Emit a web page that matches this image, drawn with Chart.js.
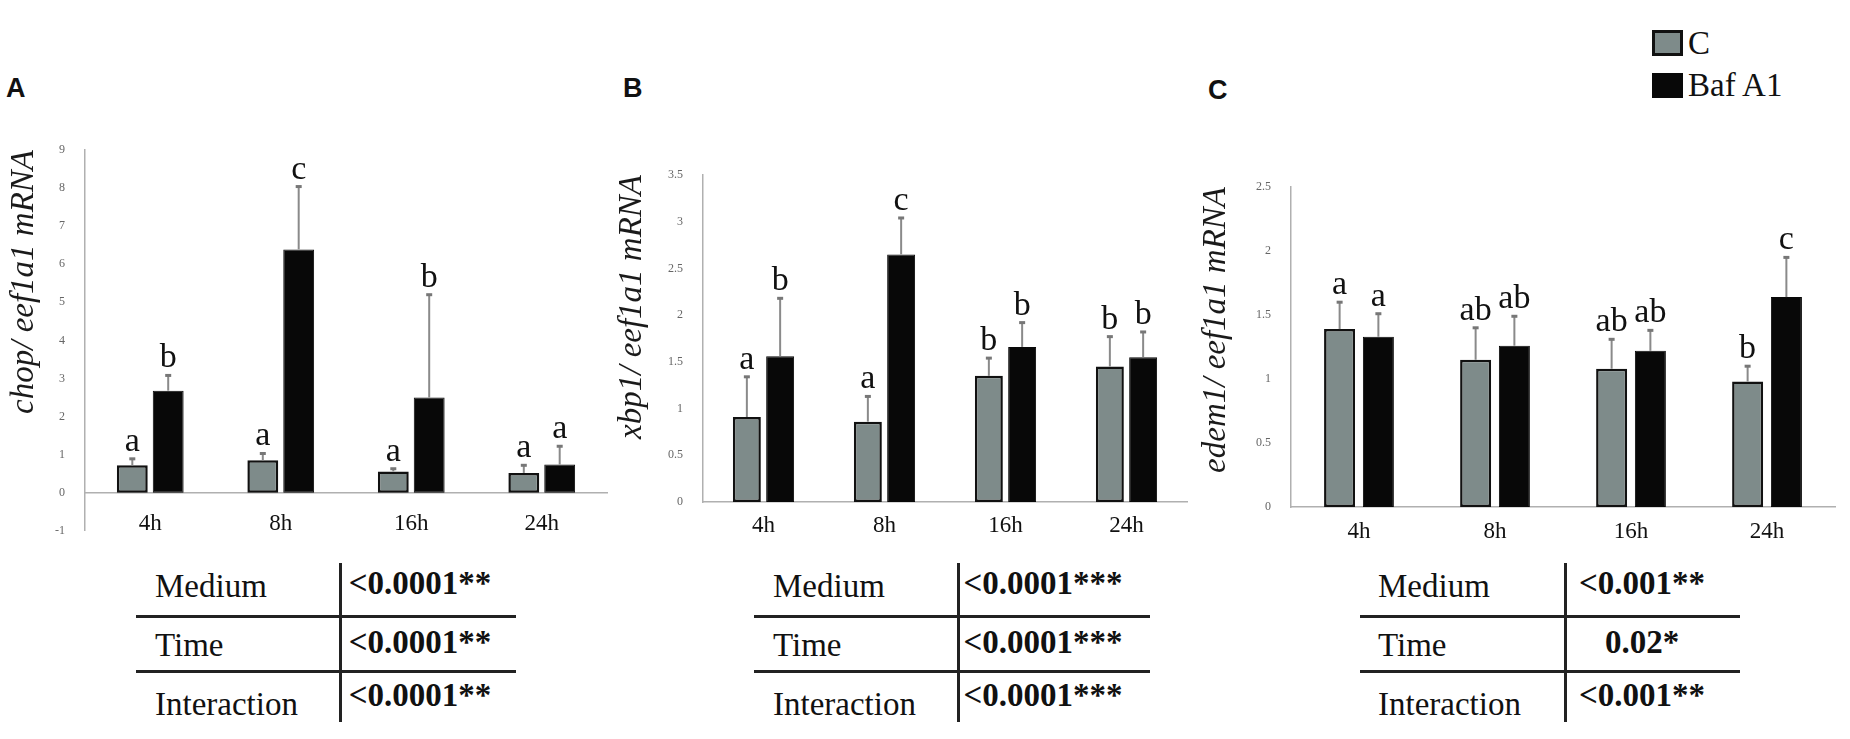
<!DOCTYPE html>
<html>
<head>
<meta charset="utf-8">
<script src="https://cdn.jsdelivr.net/npm/chart.js@4.4.1/dist/chart.umd.min.js"></script>
<style>
  html, body { margin: 0; padding: 0; background: #fff; }
  body { width: 1850px; height: 739px; position: relative; overflow: hidden; font-family: "Liberation Serif", serif; color: #111; }
  .box { position: absolute; }
  .panel { position: absolute; font-family: "Liberation Sans", Arial, sans-serif; font-weight: bold; font-size: 27px; line-height: 30px; }
  .txt { position: absolute; white-space: nowrap; line-height: 40px; height: 40px; font-family: "Liberation Serif", serif; }
  .hl { position: absolute; height: 3px; background: #222; }
  .vl { position: absolute; width: 3px; background: #222; }
  .sw { position: absolute; box-sizing: border-box; }
</style>
</head>
<body>

<div class="panel" style="left:6px; top:73px;">A</div>
<div class="panel" style="left:623px; top:73px;">B</div>
<div class="panel" style="left:1208px; top:75px;">C</div>

<div class="sw" style="left:1652px; top:30px; width:31px; height:26px; background:#7e8b8a; border:3px solid #111;"></div>
<div class="txt" style="left:1688px; top:23px; font-size:33px;">C</div>
<div class="sw" style="left:1652px; top:73px; width:31px; height:25px; background:#080808;"></div>
<div class="txt" style="left:1688px; top:65px; font-size:33px;">Baf A1</div>

<div class="box" style="left:0px; top:130px; width:620px; height:420px;"><canvas id="chartA"></canvas></div>
<div class="box" style="left:600px; top:150px; width:600px; height:400px;"><canvas id="chartB"></canvas></div>
<div class="box" style="left:1190px; top:160px; width:660px; height:400px;"><canvas id="chartC"></canvas></div>

<script>
// sampling times
const times = ['4h', '8h', '16h', '24h'];

// A: chop / eef1a1 mRNA
const chopC      = [0.72, 0.85, 0.56, 0.52];
const chopCSe    = [0.17, 0.18, 0.07, 0.20];
const chopBaf    = [2.68, 6.39, 2.50, 0.74];
const chopBafSe  = [0.40, 1.65, 2.70, 0.48];
const chopCLet   = ['a', 'a', 'a', 'a'];
const chopBafLet = ['b', 'c', 'b', 'a'];

// B: xbp1 / eef1a1 mRNA
const xbpC      = [0.91, 0.86, 1.35, 1.45];
const xbpCSe    = [0.43, 0.27, 0.19, 0.32];
const xbpBaf    = [1.56, 2.65, 1.66, 1.55];
const xbpBafSe  = [0.62, 0.39, 0.26, 0.27];
const xbpCLet   = ['a', 'a', 'b', 'b'];
const xbpBafLet = ['b', 'c', 'b', 'b'];

// C: edem1 / eef1a1 mRNA
const edemC      = [1.39, 1.15, 1.08, 0.98];
const edemCSe    = [0.21, 0.25, 0.23, 0.12];
const edemBaf    = [1.33, 1.26, 1.22, 1.64];
const edemBafSe  = [0.18, 0.23, 0.16, 0.31];
const edemCLet   = ['a', 'ab', 'ab', 'b'];
const edemBafLet = ['a', 'ab', 'ab', 'c'];

// two-way ANOVA tables
const effects = ['Medium', 'Time', 'Interaction'];
const pvalA = ['<0.0001**', '<0.0001**', '<0.0001**'];
const pvalB = ['<0.0001***', '<0.0001***', '<0.0001***'];
const pvalC = ['<0.001**', '0.02*', '<0.001**'];

Chart.defaults.font.family = '"Liberation Serif", "Times New Roman", serif';
Chart.defaults.color = '#111';

// error bars + letters drawn on top of each bar
const errLetters = {
  id: 'errLetters',
  afterDatasetsDraw(chart) {
    const ctx = chart.ctx;
    const ys = chart.scales.y;
    chart.data.datasets.forEach((ds, i) => {
      const meta = chart.getDatasetMeta(i);
      meta.data.forEach((bar, j) => {
        const top = ys.getPixelForValue(ds.data[j] + ds.se[j]);
        ctx.save();
        ctx.strokeStyle = '#8a8a8a';
        ctx.lineWidth = 2;
        ctx.beginPath();
        ctx.moveTo(bar.x, bar.y);
        ctx.lineTo(bar.x, top);
        ctx.stroke();
        ctx.fillStyle = '#777';
        ctx.fillRect(bar.x - 3, top - 1.5, 6, 3);
        ctx.fillStyle = '#111';
        ctx.font = '34px "Liberation Serif"';
        ctx.textAlign = 'center';
        ctx.textBaseline = 'alphabetic';
        ctx.fillText(ds.letters[j], bar.x, top - 8);
        ctx.restore();
      });
    });
  }
};

function makeChart(id, o) {
  return new Chart(document.getElementById(id), {
    type: 'bar',
    data: {
      labels: times,
      datasets: [{
        label: 'C',
        data: o.c, se: o.cSe, letters: o.cLet,
        backgroundColor: '#7e8b8a', borderColor: '#111', borderWidth: 2.5,
        borderSkipped: false,
        barPercentage: o.barPct, categoryPercentage: o.catPct
      }, {
        label: 'Baf A1',
        data: o.baf, se: o.bafSe, letters: o.bafLet,
        backgroundColor: '#080808', borderColor: '#080808', borderWidth: 1,
        borderSkipped: false,
        barPercentage: o.barPct, categoryPercentage: o.catPct
      }]
    },
    options: {
      responsive: true,
      maintainAspectRatio: false,
      animation: false,
      layout: { padding: o.pad },
      scales: {
        x: {
          position: o.xPos,
          grid: { display: false },
          border: { display: true, color: '#b0b0b0', width: 1.5 },
          ticks: { padding: o.xPadding, font: { size: 23 }, color: '#111', autoSkip: false, maxRotation: 0 },
          afterFit: s => { s.height = o.xHeight; }
        },
        y: {
          min: o.min, max: o.max,
          grid: { display: false },
          border: { display: true, color: '#b0b0b0', width: 1.5 },
          ticks: { stepSize: o.step, padding: 12, font: { size: 12 }, color: '#666',
                   callback: v => String(Math.round(v * 10) / 10) },
          title: {
            display: true, text: o.title, align: 'end',
            font: { size: 33, style: 'italic' }, color: '#1a1a1a',
            padding: { top: o.titlePad, bottom: 0 }
          },
          afterFit: s => { s.width = o.yWidth; }
        }
      },
      plugins: { legend: { display: false }, tooltip: { enabled: false } }
    },
    plugins: [errLetters]
  });
}

makeChart('chartA', {
  c: chopC, cSe: chopCSe, cLet: chopCLet, baf: chopBaf, bafSe: chopBafSe, bafLet: chopBafLet,
  min: -1, max: 9, step: 1, title: 'chop/ eef1a1 mRNA', titlePad: 5,
  pad: { top: 20, right: 13, bottom: 19, left: 0 }, yWidth: 85,
  xPos: { y: 0 }, xHeight: 0, xPadding: 9, barPct: 0.86, catPct: 0.55
});

makeChart('chartB', {
  c: xbpC, cSe: xbpCSe, cLet: xbpCLet, baf: xbpBaf, bafSe: xbpBafSe, bafLet: xbpBafLet,
  min: 0, max: 3.5, step: 0.5, title: 'xbp1/ eef1a1 mRNA', titlePad: 13,
  pad: { top: 25, right: 13, bottom: 0, left: 0 }, yWidth: 103,
  xPos: 'bottom', xHeight: 48, xPadding: 2, barPct: 0.84, catPct: 0.55
});

makeChart('chartC', {
  c: edemC, cSe: edemCSe, cLet: edemCLet, baf: edemBaf, bafSe: edemBafSe, bafLet: edemBafLet,
  min: 0, max: 2.5, step: 0.5, title: 'edem1/ eef1a1 mRNA', titlePad: 7,
  pad: { top: 27, right: 15, bottom: 0, left: 0 }, yWidth: 101,
  xPos: 'bottom', xHeight: 53, xPadding: 3, barPct: 0.80, catPct: 0.57
});

// ANOVA tables under each panel
function addTable(vals, g) {
  const rowsL = [586, 645, 704];
  const rowsR = [583, 642, 695];
  const lines = [616, 671];
  const put = (cls, css, text) => {
    const d = document.createElement('div');
    d.className = cls;
    d.style.cssText = css;
    if (text) d.textContent = text;
    document.body.appendChild(d);
    return d;
  };
  lines.forEach(y => put('hl', `left:${g.l}px; top:${y - 1}px; width:${g.r - g.l}px;`));
  put('vl', `left:${g.vx - 1}px; top:563px; height:159px;`);
  effects.forEach((e, i) => {
    put('txt', `left:${g.tx}px; top:${rowsL[i] - 20}px; font-size:33px;`, e);
    put('txt', `left:${g.rc - 150}px; width:300px; text-align:center; top:${rowsR[i] - 20}px; font-size:33px; font-weight:bold;`, vals[i]);
  });
}
addTable(pvalA, { l: 136, r: 516, vx: 340, tx: 155, rc: 420 });
addTable(pvalB, { l: 754, r: 1150, vx: 958, tx: 773, rc: 1043 });
addTable(pvalC, { l: 1360, r: 1740, vx: 1565, tx: 1378, rc: 1642 });
</script>
</body>
</html>
